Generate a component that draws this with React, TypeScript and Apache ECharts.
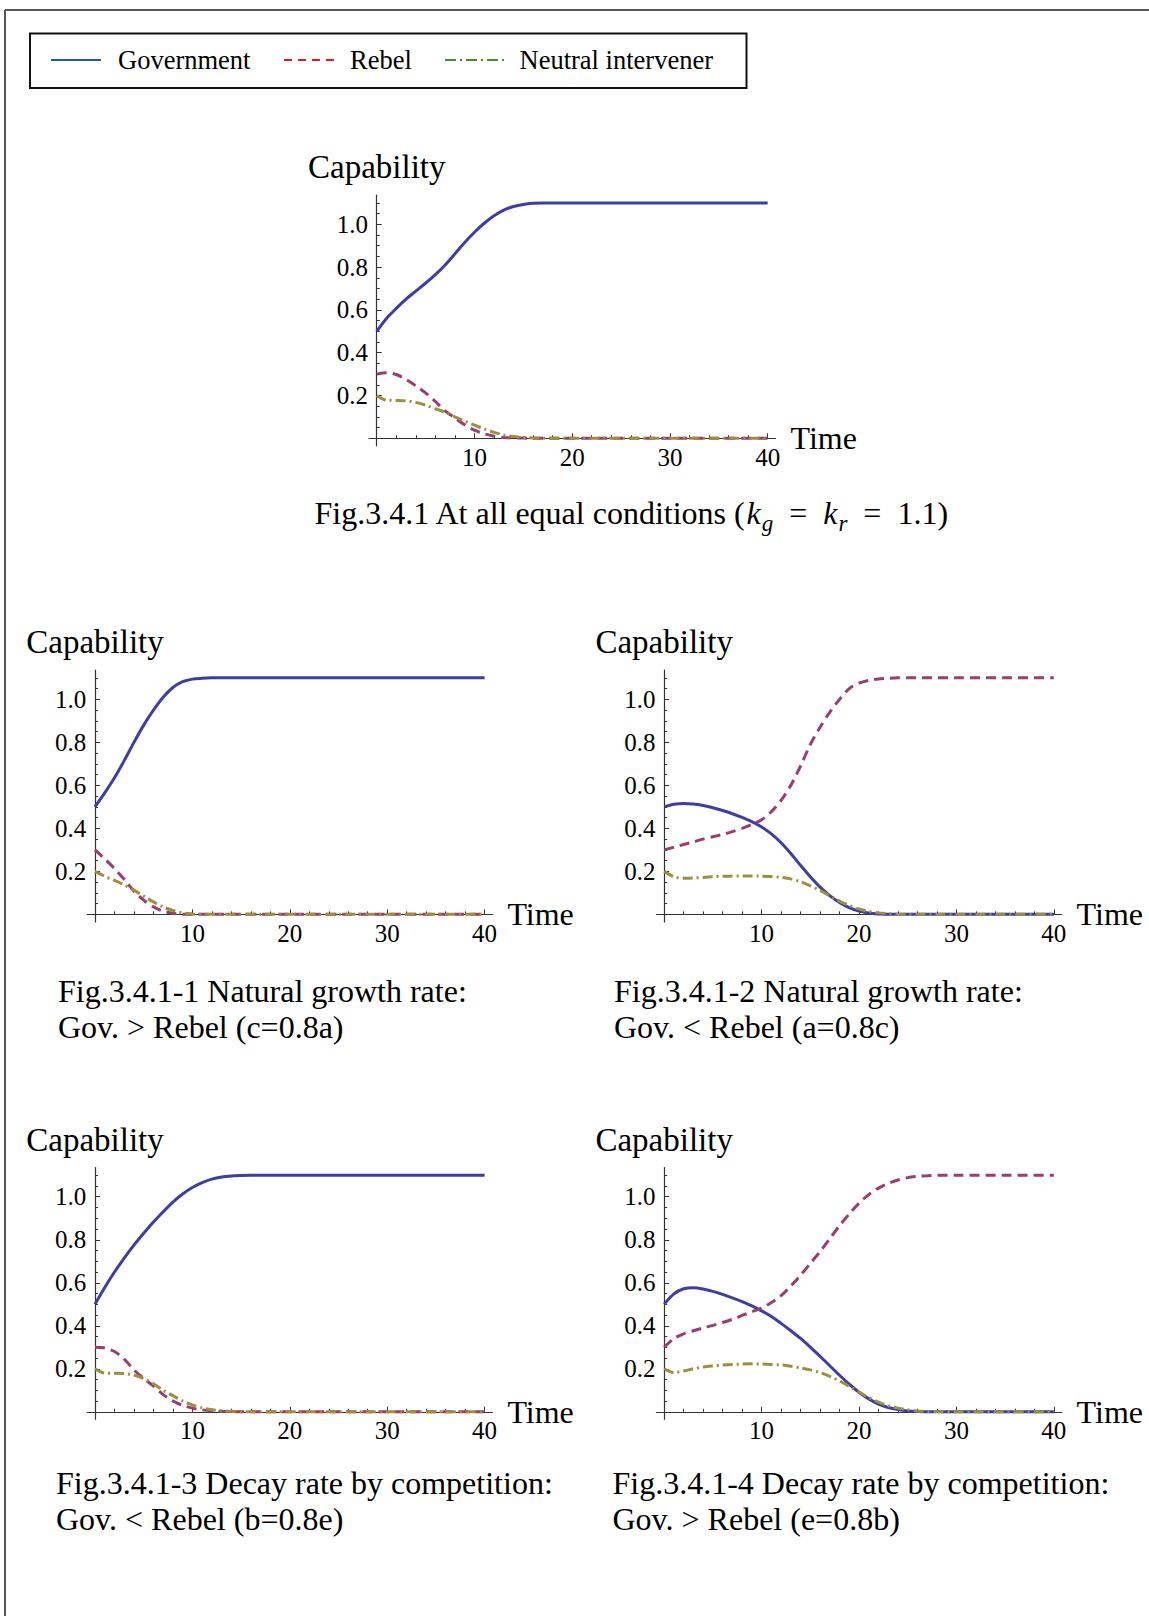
import React, { useEffect, useRef } from "react";
import * as echarts from "echarts";

// ---------- DATA ----------
const TIME = [0, 1, 2, 3, 4, 5, 6, 7, 8, 9, 10, 11, 12, 13, 14, 15, 16, 17, 18, 19, 20, 21, 22, 23, 24, 25, 26, 27, 28, 30, 35, 40];

// Fig.3.4.1 At all equal conditions
const GOV_A = [0.5, 0.56, 0.607, 0.65, 0.688, 0.725, 0.765, 0.81, 0.862, 0.915, 0.963, 1.005, 1.04, 1.066, 1.083, 1.093, 1.098, 1.1, 1.1, 1.1, 1.1, 1.1, 1.1, 1.1, 1.1, 1.1, 1.1, 1.1, 1.1, 1.1, 1.1, 1.1];
const REB_A = [0.3, 0.306, 0.298, 0.275, 0.245, 0.212, 0.172, 0.128, 0.095, 0.063, 0.038, 0.021, 0.01, 0.004, 0.002, 0.001, 0, 0, 0, 0, 0, 0, 0, 0, 0, 0, 0, 0, 0, 0, 0, 0];
const NEU_A = [0.2, 0.178, 0.177, 0.175, 0.168, 0.155, 0.138, 0.122, 0.1, 0.08, 0.062, 0.044, 0.028, 0.016, 0.008, 0.004, 0.002, 0.001, 0, 0, 0, 0, 0, 0, 0, 0, 0, 0, 0, 0, 0, 0];

// Fig.3.4.1-1
const GOV_B = [0.5, 0.565, 0.635, 0.715, 0.8, 0.88, 0.95, 1.01, 1.055, 1.082, 1.094, 1.098, 1.1, 1.1, 1.1, 1.1, 1.1, 1.1, 1.1, 1.1, 1.1, 1.1, 1.1, 1.1, 1.1, 1.1, 1.1, 1.1, 1.1, 1.1, 1.1, 1.1];
const REB_B = [0.3, 0.258, 0.213, 0.163, 0.108, 0.066, 0.035, 0.015, 0.005, 0.001, 0, 0, 0, 0, 0, 0, 0, 0, 0, 0, 0, 0, 0, 0, 0, 0, 0, 0, 0, 0, 0, 0];
const NEU_B = [0.2, 0.177, 0.158, 0.137, 0.113, 0.085, 0.058, 0.035, 0.018, 0.007, 0.002, 0, 0, 0, 0, 0, 0, 0, 0, 0, 0, 0, 0, 0, 0, 0, 0, 0, 0, 0, 0, 0];

// Fig.3.4.1-2
const GOV_C = [0.5, 0.512, 0.516, 0.513, 0.506, 0.496, 0.483, 0.468, 0.451, 0.431, 0.406, 0.374, 0.333, 0.283, 0.228, 0.175, 0.127, 0.087, 0.055, 0.031, 0.015, 0.006, 0.002, 0, 0, 0, 0, 0, 0, 0, 0, 0];
const REB_C = [0.3, 0.312, 0.325, 0.337, 0.35, 0.361, 0.372, 0.385, 0.4, 0.418, 0.44, 0.478, 0.53, 0.6, 0.69, 0.79, 0.87, 0.94, 1.0, 1.05, 1.075, 1.088, 1.095, 1.098, 1.1, 1.1, 1.1, 1.1, 1.1, 1.1, 1.1, 1.1];
const NEU_C = [0.2, 0.175, 0.168, 0.169, 0.172, 0.175, 0.177, 0.178, 0.179, 0.179, 0.178, 0.176, 0.172, 0.165, 0.152, 0.133, 0.111, 0.086, 0.062, 0.041, 0.025, 0.014, 0.007, 0.003, 0.001, 0, 0, 0, 0, 0, 0, 0];

// Fig.3.4.1-3
const GOV_D = [0.5, 0.578, 0.65, 0.715, 0.775, 0.83, 0.882, 0.93, 0.975, 1.013, 1.043, 1.066, 1.082, 1.092, 1.097, 1.099, 1.1, 1.1, 1.1, 1.1, 1.1, 1.1, 1.1, 1.1, 1.1, 1.1, 1.1, 1.1, 1.1, 1.1, 1.1, 1.1];
const REB_D = [0.3, 0.297, 0.28, 0.245, 0.195, 0.155, 0.12, 0.08, 0.05, 0.03, 0.017, 0.009, 0.004, 0.002, 0, 0, 0, 0, 0, 0, 0, 0, 0, 0, 0, 0, 0, 0, 0, 0, 0, 0];
const NEU_D = [0.2, 0.18, 0.179, 0.178, 0.171, 0.155, 0.13, 0.1, 0.075, 0.05, 0.032, 0.018, 0.009, 0.004, 0.002, 0, 0, 0, 0, 0, 0, 0, 0, 0, 0, 0, 0, 0, 0, 0, 0, 0];

// Fig.3.4.1-4
const GOV_E = [0.5, 0.548, 0.572, 0.577, 0.571, 0.56, 0.546, 0.53, 0.512, 0.492, 0.469, 0.443, 0.411, 0.377, 0.341, 0.301, 0.258, 0.214, 0.17, 0.128, 0.091, 0.06, 0.036, 0.02, 0.01, 0.004, 0.0015, 0, 0, 0, 0, 0];
const REB_E = [0.3, 0.34, 0.362, 0.377, 0.39, 0.402, 0.415, 0.43, 0.448, 0.465, 0.482, 0.508, 0.54, 0.585, 0.635, 0.69, 0.745, 0.805, 0.865, 0.92, 0.97, 1.01, 1.04, 1.062, 1.078, 1.089, 1.095, 1.098, 1.1, 1.1, 1.1, 1.1];
const NEU_E = [0.2, 0.182, 0.19, 0.2, 0.208, 0.213, 0.217, 0.22, 0.222, 0.223, 0.222, 0.22, 0.218, 0.212, 0.204, 0.195, 0.182, 0.165, 0.143, 0.118, 0.092, 0.066, 0.045, 0.028, 0.017, 0.009, 0.004, 0.002, 0.001, 0, 0, 0];

const PANEL_SERIES = [
  [GOV_A, REB_A, NEU_A],
  [GOV_B, REB_B, NEU_B],
  [GOV_C, REB_C, NEU_C],
  [GOV_D, REB_D, NEU_D],
  [GOV_E, REB_E, NEU_E],
];

const SERIES_NAMES = ["Government", "Rebel", "Neutral intervener"];
const X_NAME = "Time";
const Y_NAME = "Capability";
const X_MAJOR_TICKS = [10, 20, 30, 40];
const X_MINOR_TICKS = [2, 4, 6, 8, 12, 14, 16, 18, 22, 24, 26, 28, 32, 34, 36, 38];
const Y_MAJOR_TICKS = [0.2, 0.4, 0.6, 0.8, 1.0];
const Y_MINOR_TICKS = [0.05, 0.1, 0.15, 0.25, 0.3, 0.35, 0.45, 0.5, 0.55, 0.65, 0.7, 0.75, 0.85, 0.9, 0.95, 1.05, 1.1];

const CAPTION_TOP_MAIN = "Fig.3.4.1 At all equal conditions (";
const CAPTIONS = [
  ["Fig.3.4.1-1 Natural growth rate:", "Gov. > Rebel (c=0.8a)"],
  ["Fig.3.4.1-2 Natural growth rate:", "Gov. < Rebel (a=0.8c)"],
  ["Fig.3.4.1-3 Decay rate by competition:", "Gov. < Rebel (b=0.8e)"],
  ["Fig.3.4.1-4 Decay rate by competition:", "Gov. > Rebel (e=0.8b)"],
];

// ---------- STYLE / LAYOUT ----------
const FONT = "'Liberation Serif', 'Times New Roman', serif";
const LINE_COLORS = ["#3d3da6", "#9b3d6e", "#9c903e"];
const LINE_TYPES: any[] = ["solid", [10, 6], [10, 4, 2, 4]];
const LEGEND_COLORS = ["#1a5da8", "#e3191c", "#4d8b2a"];
const LEGEND_DASH: any[] = [null, [8, 6], [11, 4, 2, 4]];
const AXIS_COLOR = "#333";

const PANELS = [
  { left: 368.9, top: 195.2, width: 406.6, height: 250.6 },
  { left: 87.2, top: 670.1, width: 405.2, height: 251.8 },
  { left: 656.4, top: 670.1, width: 405.2, height: 251.8 },
  { left: 87.2, top: 1167.5, width: 405.2, height: 251.8 },
  { left: 656.4, top: 1167.5, width: 405.2, height: 251.8 },
];
const CAPTION_POS = [
  { x: 58, y1: 990.5, y2: 1026.5 },
  { x: 614, y1: 990.5, y2: 1026.5 },
  { x: 56, y1: 1483, y2: 1519 },
  { x: 612.5, y1: 1483, y2: 1519 },
];

function buildOption() {
  const grid: any[] = [];
  const xAxis: any[] = [];
  const yAxis: any[] = [];
  const series: any[] = [];

  PANELS.forEach((p, g) => {
    grid.push({ left: p.left, top: p.top, width: p.width, height: p.height, containLabel: false, outerBoundsMode: "none" });

    const tickLine = { color: AXIS_COLOR, width: 1 };
    xAxis.push({
      type: "value", gridIndex: g, position: "bottom", min: -0.8, max: 40.8,
      name: X_NAME, nameLocation: "end", nameGap: 15, nameMoveOverlap: false,
      nameTextStyle: { fontFamily: FONT, fontSize: 32, color: "#000", align: "left", verticalAlign: "middle" },
      axisLine: { show: true, onZero: true, onZeroAxisIndex: 2 * g, lineStyle: { color: AXIS_COLOR, width: 1.2 } },
      axisTick: { show: true, inside: true, length: 5, customValues: X_MAJOR_TICKS, lineStyle: tickLine },
      axisLabel: { show: true, customValues: X_MAJOR_TICKS, margin: -1, fontFamily: FONT, fontSize: 25, color: "#000", formatter: (v: number) => String(Math.round(v)) },
      splitLine: { show: false }, minorTick: { show: false }, minorSplitLine: { show: false },
    });
    xAxis.push({
      type: "value", gridIndex: g, position: "bottom", min: -0.8, max: 40.8,
      axisLine: { show: false, onZero: true, onZeroAxisIndex: 2 * g },
      axisTick: { show: true, inside: true, length: 3, customValues: X_MINOR_TICKS, lineStyle: tickLine },
      axisLabel: { show: false }, splitLine: { show: false },
    });
    yAxis.push({
      type: "value", gridIndex: g, position: "left", min: -0.035, max: 1.136,
      name: Y_NAME, nameLocation: "end", nameGap: 11.5, nameMoveOverlap: false,
      nameTextStyle: { fontFamily: FONT, fontSize: 33, color: "#000", align: "center", verticalAlign: "bottom" },
      axisLine: { show: true, onZero: true, onZeroAxisIndex: 2 * g, lineStyle: { color: AXIS_COLOR, width: 1.2 } },
      axisTick: { show: true, inside: true, length: 5, customValues: Y_MAJOR_TICKS, lineStyle: tickLine },
      axisLabel: { show: true, customValues: Y_MAJOR_TICKS, margin: 1, fontFamily: FONT, fontSize: 25, color: "#000", formatter: (v: number) => v.toFixed(1) },
      splitLine: { show: false }, minorTick: { show: false }, minorSplitLine: { show: false },
    });
    yAxis.push({
      type: "value", gridIndex: g, position: "left", min: -0.035, max: 1.136,
      axisLine: { show: false, onZero: true, onZeroAxisIndex: 2 * g },
      axisTick: { show: true, inside: true, length: 3, customValues: Y_MINOR_TICKS, lineStyle: tickLine },
      axisLabel: { show: false }, splitLine: { show: false },
    });

    PANEL_SERIES[g].forEach((vals, k) => {
      series.push({
        type: "line", name: SERIES_NAMES[k], xAxisIndex: 2 * g, yAxisIndex: 2 * g,
        data: TIME.map((t, i) => [t, vals[i]]),
        showSymbol: false, symbol: "none", smooth: 0.3, silent: true,
        lineStyle: { color: LINE_COLORS[k], width: 3, type: LINE_TYPES[k], cap: "butt" },
        itemStyle: { color: LINE_COLORS[k] },
        emphasis: { disabled: true }, z: 3 + k,
      });
    });
  });

  const elements: any[] = [];
  // page frame
  elements.push({ type: "line", shape: { x1: 5, y1: 10, x2: 1149, y2: 10 }, style: { stroke: "#555", lineWidth: 2 } });
  elements.push({ type: "line", shape: { x1: 5, y1: 10, x2: 5, y2: 1616 }, style: { stroke: "#555", lineWidth: 2 } });
  // legend box
  elements.push({ type: "rect", shape: { x: 30, y: 33.5, width: 716.5, height: 54.5 }, style: { fill: "#fff", stroke: "#111", lineWidth: 2 } });
  const legendLines = [[51, 101], [284, 334.5], [445, 508]];
  const legendTextX = [118, 350, 519.5];
  SERIES_NAMES.forEach((name, k) => {
    const st: any = { stroke: LEGEND_COLORS[k], lineWidth: 2 };
    if (LEGEND_DASH[k]) st.lineDash = LEGEND_DASH[k];
    elements.push({ type: "line", shape: { x1: legendLines[k][0], y1: 60, x2: legendLines[k][1], y2: 60 }, style: st });
    elements.push({ type: "text", x: legendTextX[k], y: 59.5, style: { text: name, fontFamily: FONT, fontSize: 26.5, fill: "#000", align: "left", verticalAlign: "middle" } });
  });
  // top caption with math
  elements.push({
    type: "text", x: 314.5, y: 513,
    style: {
      text: "{n|" + CAPTION_TOP_MAIN + "}{i|k}{s|g}{e|=}{i|k}{s|r}{e|=}{n|1.1)}",
      fontFamily: FONT, fontSize: 32, fill: "#000", align: "left", verticalAlign: "middle",
      rich: {
        n: { fontFamily: FONT, fontSize: 32, fill: "#000", verticalAlign: "middle" },
        i: { fontFamily: FONT, fontSize: 32, fontStyle: "italic", fill: "#000", verticalAlign: "middle" },
        s: { fontFamily: FONT, fontSize: 23, fontStyle: "italic", fill: "#000", verticalAlign: "middle", padding: [20, 0, 0, 1] },
        e: { fontFamily: FONT, fontSize: 32, fill: "#000", verticalAlign: "middle", padding: [0, 16, 0, 16] },
      },
    },
  });
  CAPTIONS.forEach((lines, c) => {
    const pos = CAPTION_POS[c];
    elements.push({ type: "text", x: pos.x, y: pos.y1, style: { text: lines[0], fontFamily: FONT, fontSize: 32, fill: "#000", align: "left", verticalAlign: "middle" } });
    elements.push({ type: "text", x: pos.x, y: pos.y2, style: { text: lines[1], fontFamily: FONT, fontSize: 32, fill: "#000", align: "left", verticalAlign: "middle" } });
  });

  return {
    animation: false,
    backgroundColor: "#ffffff",
    grid, xAxis, yAxis, series,
    graphic: { elements },
  };
}

export default function App() {
  const ref = useRef<HTMLDivElement>(null);
  useEffect(() => {
    document.body.style.margin = "0";
    const chart = echarts.init(ref.current as HTMLDivElement, null, { renderer: "svg", width: 1149, height: 1616 });
    chart.setOption(buildOption() as any);
    return () => chart.dispose();
  }, []);
  return <div ref={ref} style={{ position: "absolute", left: 0, top: 0, width: 1149, height: 1616, background: "#fff" }} />;
}
